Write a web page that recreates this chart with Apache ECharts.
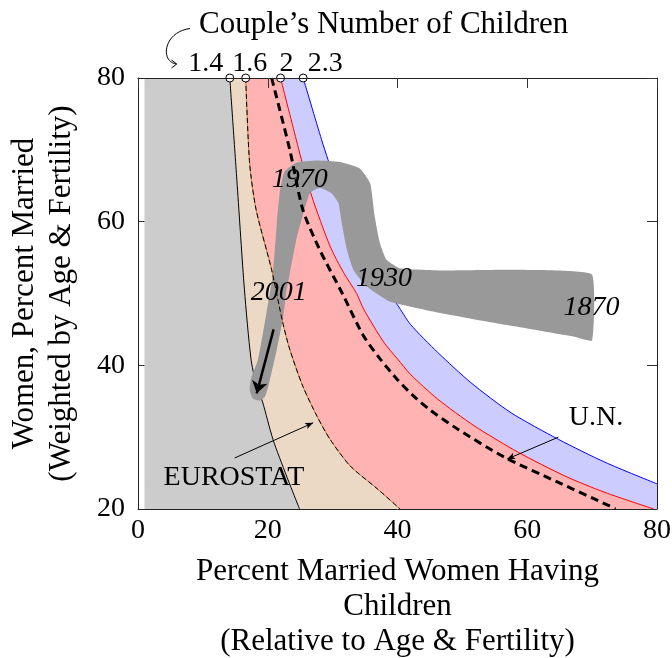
<!DOCTYPE html>
<html>
<head>
<meta charset="utf-8">
<script src="https://cdn.jsdelivr.net/npm/echarts@6/dist/echarts.min.js"></script>
<style>
html, body { margin: 0; padding: 0; background: #fff; }
#main { width: 672px; height: 658px; }
</style>
</head>
<body>
<div id="main"></div>
<script>
var FONT = 'Liberation Serif';

// curves of equal couple's number of children
var curve14 = [[14.15, 80], [15.3, 65], [16.4, 50.6], [17.4, 41], [18.2, 37.4], [19.2, 34.9], [20.8, 29.7], [22.9, 24.6], [24.9, 20]];
var curve16 = [[16.6, 80], [17.2, 68.2], [18.2, 61.7], [20.6, 53.3], [22.3, 46], [23.4, 42.2], [25.4, 37.1], [27.6, 32.9], [29.6, 29.7], [32.7, 26], [36.9, 22.8], [40.4, 20]];
var curve20 = [[21.97, 80], [24.4, 71.4], [25.2, 68.6], [26.8, 63.5], [29.6, 56.6], [31.7, 52.9], [33.7, 50], [34.8, 47.8], [37.9, 43.2], [40, 40.9], [42, 38.75], [46.2, 35.3], [51.8, 31.6], [58.6, 27.9], [65.8, 24.6], [72, 22.3], [79.5, 20]];
var curve23 = [[25.46, 80], [28.3, 71.4], [29.3, 68.6], [31.5, 62.5], [34, 57], [37, 52], [40, 48.4], [42, 45.7], [46.2, 41.8], [51.3, 37.6], [57.5, 33.4], [64.8, 29.7], [72, 26.5], [80, 23.5]];
var curveDash = [[20.6, 80], [23.4, 70], [25.4, 61.7], [28, 56.1], [31.5, 50], [34.7, 44.2], [37.4, 40.8], [40, 38], [42.5, 35.7], [45, 33.8], [49.3, 31.1], [56.5, 27.2], [64.8, 23.7], [72.5, 20.5], [73.6, 20]];
var fillLeft = 1;
var topLabels = ['1.4', '1.6', '2', '2.3'];

// 1870 -> 2001 trajectory band, outline
var trajectory = [
  [70, 52.6], [64.6, 53.2], [56.9, 53.3], [46.6, 53.2], [40.4, 53.5], [38.3, 54.7], [37.3, 57], [36.5, 60.7],
  [35.8, 65.3], [34.2, 67.4], [31.1, 68.3], [27.5, 68.5], [24.4, 68.2], [22.6, 67], [21.9, 64.4], [21.4, 59.8],
  [20.8, 52.8], [19.8, 47.3], [18.5, 40.8], [17.5, 38.4], [17.2, 36.6], [17.7, 35.4], [18.8, 35.1], [19.6, 35.7],
  [20.1, 37.1], [21.4, 42.2], [22.4, 46.8], [22.9, 50.5], [23.4, 52.8], [24.4, 57.5], [25.5, 61.2], [26.5, 64],
  [28, 64.7], [29.8, 64], [30.9, 62.6], [31.4, 59.8], [32.2, 56.1], [33.2, 53.3], [35.2, 51], [38.8, 48.9],
  [46.6, 47.3], [56.9, 45.6], [67.1, 44], [70, 43.5]
];
var trendArrow = [[20.9, 45], [18.3, 36.1]];
var yearLabels = ['1870', '1930', '1970', '2001'];
var yearPos = [[69.9, 48.1], [37.9, 52], [24.95, 65.8], [21.7, 50.1]];
var sourceLabels = ['U.N.', 'EUROSTAT'];
var sourcePos = [[70.6, 32.7], [14.8, 24.4]];
var sourceArrows = [[[64.8, 30], [56.9, 26.95]], [[14.9, 27.1], [27, 32]]];

var xTicks = { min: 0, max: 80, interval: 20 };
var yTicks = { min: 20, max: 80, interval: 20 };

var topLabelOffset = [[-24, -14], [4, -14], [6, -14], [22, -14]];

var chart = echarts.init(document.getElementById('main'));

// area left of a curve: a flat strip along the top up to where the curve starts,
// then (after a gap, same path) the smoothed curve itself
function fillSeries(curve, color, left) {
  return {
    type: 'line', z: 1, symbol: 'none', smooth: 0.25, silent: true, connectNulls: false,
    data: [[left, 80], curve[0], '-'].concat(curve),
    lineStyle: { width: 0, opacity: 0 },
    areaStyle: { color: color, opacity: 1, origin: 'start' }
  };
}
function lineSeries(curve, color, width, type, z) {
  return {
    type: 'line', z: z, data: curve, symbol: 'none', smooth: 0.25, silent: true,
    lineStyle: { color: color, width: width, type: type || 'solid' }
  };
}
var tickStyle = { show: true, inside: true, length: 10, lineStyle: { color: '#333', width: 1 } };
function axis(pos, r, z, line, ticks, labels) {
  return {
    type: 'value', position: pos, min: r.min, max: r.max, interval: r.interval, z: z,
    axisLine: { show: line, onZero: false, lineStyle: { color: '#222', width: 1 } },
    axisTick: ticks ? tickStyle : { show: false },
    axisLabel: { show: labels, fontFamily: FONT, fontSize: 28, color: '#000', margin: pos == 'left' ? 13 : 8 },
    splitLine: { show: false }
  };
}

// bottom/left: ticks under the fills, frame line above them; top/right: ticks and frame above
var xb = axis('bottom', xTicks, 0, false, true, true);
xb.name = 'Percent Married Women Having\nChildren\n(Relative to Age & Fertility)';
xb.nameLocation = 'middle';
xb.nameGap = 45;
xb.nameTextStyle = { fontFamily: FONT, fontSize: 31, color: '#000', lineHeight: 35 };
var yl = axis('left', yTicks, 0, false, true, true);
yl.name = 'Women, Percent Married\n(Weighted by Age & Fertility)';
yl.nameLocation = 'middle';
yl.nameGap = 58;
yl.nameTextStyle = { fontFamily: FONT, fontSize: 31, color: '#000', lineHeight: 37 };

var labelText = { fontFamily: FONT, fontSize: 28, color: '#000', textBorderWidth: 0, textShadowBlur: 0 };

var series = [
  fillSeries(curve23, '#ccccff', fillLeft + 1),
  fillSeries(curve20, '#ffb3b3', fillLeft + 1),
  fillSeries(curve16, '#ebd9c6', fillLeft + 1),
  fillSeries(curve14, '#cccccc', fillLeft),
  lineSeries(curve23, '#0000ff', 1, 'solid', 3),
  lineSeries(curve20, '#ff0000', 1, 'solid', 3),
  lineSeries(curve14, '#000', 1, 'solid', 3),
  {
    type: 'custom', z: 4, data: trajectory, silent: true,
    renderItem: function (params, api) {
      if (params.dataIndex !== 0) return;
      var pts = trajectory.map(function (p) { return api.coord(p); });
      return { type: 'polygon', shape: { points: pts, smooth: 0.15 }, style: { fill: '#999999' } };
    }
  },
  lineSeries(curve16, '#bf8040', 1, 'solid', 5),
  lineSeries(curve16, '#000', 1, [5, 3], 5),
  lineSeries(curveDash, '#000', 3, [8, 5], 5),
  {
    type: 'scatter', z: 6, silent: true, clip: false, xAxisIndex: 1, yAxisIndex: 1,
    data: [curve14[0], curve16[0], curve20[0], curve23[0]].map(function (p, i) {
      return { value: p, name: topLabels[i], label: { offset: topLabelOffset[i] } };
    }),
    symbol: 'circle', symbolSize: 8,
    itemStyle: { color: '#fff', borderColor: '#000', borderWidth: 1, opacity: 1 },
    label: Object.assign({ show: true, position: 'inside', formatter: '{b}' }, labelText)
  },
  {
    type: 'scatter', z: 6, silent: true, symbolSize: 0, itemStyle: { opacity: 1 }, xAxisIndex: 2, yAxisIndex: 2,
    data: yearPos.map(function (p, i) { return { value: p, name: yearLabels[i] }; }),
    label: Object.assign({ show: true, position: 'inside', formatter: '{b}', fontStyle: 'italic' }, labelText),
    markLine: {
      silent: true, symbol: ['none', 'arrow'], symbolSize: 12,
      label: { show: false },
      lineStyle: { color: '#000', width: 2.5, type: 'solid' },
      data: [[{ coord: trendArrow[0] }, { coord: trendArrow[1] }]]
    }
  },
  {
    type: 'scatter', z: 6, silent: true, symbolSize: 0, itemStyle: { opacity: 1 },
    data: sourcePos.map(function (p, i) { return { value: p, name: sourceLabels[i] }; }),
    label: Object.assign({ show: true, position: 'inside', formatter: '{b}' }, labelText),
    markLine: {
      silent: true, symbol: ['none', 'arrow'], symbolSize: [5, 8],
      label: { show: false },
      lineStyle: { color: '#000', width: 1, type: 'solid' },
      data: sourceArrows.map(function (a) { return [{ coord: a[0] }, { coord: a[1] }]; })
    }
  }
];

var option = {
  backgroundColor: '#fff',
  animation: false,
  grid: { left: 138, right: 15, top: 78, bottom: 149, outerBoundsMode: 'none', containLabel: false },
  xAxis: [xb, axis('top', xTicks, 10, true, true, false), axis('bottom', xTicks, 10, true, false, false)],
  yAxis: [yl, axis('right', yTicks, 10, true, true, false), axis('left', yTicks, 10, true, false, false)],
  graphic: [
    { type: 'text', left: 199, top: 9, style: { text: 'Couple\u2019s Number of Children', font: '31px "Liberation Serif"', fill: '#000' } },
    { type: 'bezierCurve', shape: { x1: 190, y1: 28.5, cpx1: 163, cpy1: 32, cpx2: 160, cpy2: 62, x2: 176.5, y2: 64 }, style: { stroke: '#000', lineWidth: 1, fill: null } },
    { type: 'polyline', shape: { points: [[171.5, 60], [176.7, 64], [171.5, 68]] }, style: { stroke: '#000', lineWidth: 1, fill: null } }
  ],
  series: series
};
chart.setOption(option);
</script>
</body>
</html>
